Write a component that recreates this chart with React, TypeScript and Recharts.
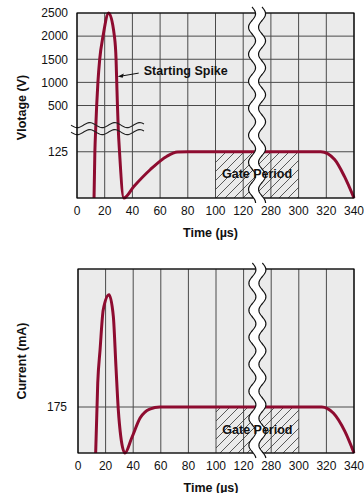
import React from "react";
import {
  LineChart,
  Line,
  XAxis,
  YAxis,
  CartesianGrid,
  ReferenceArea,
  ReferenceLine,
  ReferenceDot,
} from "recharts";

const MAROON = "#8e0c30";
const GRID = "#4a4a4a";
const BG = "#ebebeb";
const FONT = "'Liberation Sans', Arial, Helvetica, sans-serif";

// x axis is broken between 120 and 280 µs
const timeTicks = ["0", "20", "40", "60", "80", "100", "120", "280", "300", "320", "340"];

// top panel: voltage (V), axis broken between 125 and 500
const voltTicks = [125, 500, 1000, 1500, 2000, 2500];
const voltTime = [12.3, 12.9, 13.5, 14.2, 15.1, 16.4, 18.8, 22.9, 27, 28.2, 28.7, 29.2, 29.8, 30.7, 33.8, 41, 53, 65, 72.5, 80, 120, 280, 316, 326, 333, 340];
const voltVals = [0, 125, 310, 500, 1000, 1500, 2000, 2500, 2000, 1500, 1000, 500, 310, 125, 0, 31, 77, 113, 124, 125, 125, 125, 125, 104, 59, 0];

// bottom panel: current (mA)
const currTicks = [175];
const currTime = [12.8, 14.3, 16, 18.3, 22.5, 25.6, 27.5, 29.2, 31, 34, 38.9, 45, 52, 59.4, 120, 280, 316.6, 325, 333.4, 340];
const currVals = [0, 266, 393, 545, 602, 520, 329, 165, 63, 0, 57, 133, 167, 175, 175, 175, 175, 152, 82, 0];

// piecewise scales for the broken axes
const tIdx = (t: number) => (t <= 120 ? t / 20 : 7 + (t - 280) / 20);
const vIdx = (v: number) =>
  v <= 125 ? v / 62.5 : v <= 500 ? 2 + (v - 125) / 187.5 : 4 + (v - 500) / 500;

const voltData = voltTime.map((t, i) => ({ x: tIdx(t), y: vIdx(voltVals[i]) }));
const currData = currTime.map((t, i) => ({ x: tIdx(t), y: currVals[i] }));

const xTickIdx = timeTicks.map((_, i) => i);

function wavePts(from: number, to: number, base: number, amp: number, len: number, vertical: boolean) {
  const pts: string[] = [];
  for (let s = from; s <= to + 0.01; s += 1) {
    const off = base + amp * Math.sin(((s - from) / len) * Math.PI * 2);
    pts.push(vertical ? `${off.toFixed(2)},${s}` : `${s},${off.toFixed(2)}`);
  }
  return pts;
}

function VBreak(p: any) {
  const cx = (p.x1 + p.x2) / 2;
  const top = Math.min(p.y1, p.y2) - 6;
  const bot = Math.max(p.y1, p.y2) + 5;
  const left = wavePts(top, bot, cx - 5, 3.5, 27, true);
  const right = wavePts(top, bot, cx + 5, 3.5, 27, true);
  const poly = [...left, ...right.slice().reverse()].join(" ");
  return (
    <g>
      <polygon points={poly} fill="#fff" stroke="none" />
      <polyline points={left.join(" ")} fill="none" stroke="#111" strokeWidth={1.2} />
      <polyline points={right.join(" ")} fill="none" stroke="#111" strokeWidth={1.2} />
    </g>
  );
}

function HBreak(p: any) {
  const x0 = Math.min(p.x1, p.x2) - 6;
  const y = p.y1;
  const a = wavePts(x0, x0 + 73, y - 3.5, 2.5, 25, false);
  const b = wavePts(x0, x0 + 73, y + 3.5, 2.5, 25, false);
  return (
    <g>
      <polyline points={a.join(" ")} fill="none" stroke="#222" strokeWidth={1.1} />
      <polyline points={b.join(" ")} fill="none" stroke="#222" strokeWidth={1.1} />
    </g>
  );
}

function GateText(p: any) {
  return (
    <text x={p.cx} y={p.cy} dy="0.35em" textAnchor="middle" fontFamily={FONT} fontWeight="bold" fontSize={12.5} fill="#111">
      Gate Period
    </text>
  );
}

function SpikeNote(p: any) {
  const { cx, cy } = p;
  return (
    <g>
      <line x1={cx + 21} y1={cy - 3.5} x2={cx + 4} y2={cy - 0.6} stroke="#111" strokeWidth={1} />
      <polygon points={`${cx},${cy} ${cx + 6},${cy - 3.2} ${cx + 5},${cy + 1.2}`} fill="#111" />
      <text x={cx + 26} y={cy - 1.5} fontFamily={FONT} fontWeight="bold" fontSize={12.5} fill="#111">
        Starting Spike
      </text>
    </g>
  );
}

const timeLabel = (props: any) => {
  const vb = props.viewBox;
  return (
    <text x={vb.x + vb.width / 2 - 5} y={vb.y + 39} textAnchor="middle" fontFamily={FONT} fontWeight="bold" fontSize={12.5} fill="#111">
      Time (µs)
    </text>
  );
};

const yLabel = (text: string, shift: number) => (props: any) => {
  const vb = props.viewBox;
  const cy = vb.y + vb.height / 2 + shift;
  return (
    <text x={22} y={cy} dy="0.35em" textAnchor="middle" transform={`rotate(-90, 22, ${cy})`} fontFamily={FONT} fontWeight="bold" fontSize={12.5} fill="#111">
      {text}
    </text>
  );
};

const tickStyle = { fontFamily: FONT, fontSize: 12, fill: "#111" };

function Hatch({ id }: { id: string }) {
  return (
    <defs>
      <pattern id={id} patternUnits="userSpaceOnUse" width={9} height={9}>
        <line x1={-1} y1={10} x2={10} y2={-1} stroke="#333" strokeWidth={0.8} />
      </pattern>
    </defs>
  );
}

function VoltageChart() {
  const voltFmt = (v: number) => {
    const i = [2, 4, 5, 6, 7, 8].indexOf(v);
    return i >= 0 ? String(voltTicks[i]) : "";
  };
  return (
    <LineChart width={364} height={250} data={voltData} margin={{ top: 13, right: 10, bottom: 0, left: 0 }}>
      <Hatch id="hatchTop" />
      <CartesianGrid stroke={GRID} fill={BG} fillOpacity={1} />
      <XAxis
        type="number"
        dataKey="x"
        domain={[0, 10]}
        ticks={xTickIdx}
        interval={0}
        tickFormatter={(v: number) => timeTicks[v] ?? ""}
        tick={tickStyle}
        tickSize={0}
        tickMargin={8}
        axisLine={false}
        height={52}
        label={timeLabel}
      />
      <YAxis
        type="number"
        domain={[0, 8]}
        ticks={[2, 4, 5, 6, 7, 8]}
        interval={0}
        tickFormatter={voltFmt}
        tick={tickStyle}
        tickSize={0}
        tickMargin={9}
        axisLine={false}
        width={77}
        label={yLabel("Vlotage (V)", 2)}
      />
      <ReferenceArea x1={5} x2={8} y1={0} y2={2} fill="url(#hatchTop)" fillOpacity={1} stroke="none" zIndex={50} />
      <Line type="monotone" dataKey="y" stroke={MAROON} strokeWidth={3} dot={false} isAnimationActive={false} />
      <ReferenceLine y={3} shape={HBreak} zIndex={450} />
      <ReferenceLine x={6.5} shape={VBreak} zIndex={460} />
      <ReferenceDot x={1.47} y={5.25} r={0} shape={SpikeNote} zIndex={470} />
      <ReferenceDot x={6.5} y={1.05} r={0} shape={GateText} zIndex={470} />
      <ReferenceArea x1={0} x2={10} y1={0} y2={8} fill="none" stroke="#000" strokeWidth={1.2} zIndex={455} />
    </LineChart>
  );
}

function CurrentChart() {
  return (
    <LineChart width={364} height={243} data={currData} margin={{ top: 19, right: 10, bottom: 0, left: 0 }}>
      <Hatch id="hatchBottom" />
      <CartesianGrid stroke={GRID} fill={BG} fillOpacity={1} />
      <XAxis
        type="number"
        dataKey="x"
        domain={[0, 10]}
        ticks={xTickIdx}
        interval={0}
        tickFormatter={(v: number) => timeTicks[v] ?? ""}
        tick={tickStyle}
        tickSize={0}
        tickMargin={8}
        axisLine={false}
        height={40}
        label={(p: any) => timeLabel({ viewBox: { ...p.viewBox, y: p.viewBox.y - 0.5 } })}
      />
      <YAxis
        type="number"
        domain={[0, 700]}
        ticks={currTicks}
        interval={0}
        tick={tickStyle}
        tickSize={0}
        tickMargin={11}
        axisLine={false}
        width={78}
        label={yLabel("Current (mA)", 0)}
      />
      <ReferenceArea x1={5} x2={8} y1={0} y2={175} fill="url(#hatchBottom)" fillOpacity={1} stroke="none" zIndex={50} />
      <Line type="monotone" dataKey="y" stroke={MAROON} strokeWidth={3} dot={false} isAnimationActive={false} />
      <ReferenceLine x={6.5} shape={VBreak} zIndex={460} />
      <ReferenceDot x={6.5} y={89} r={0} shape={GateText} zIndex={470} />
      <ReferenceArea x1={0} x2={10} y1={0} y2={700} fill="none" stroke="#000" strokeWidth={1.2} zIndex={455} />
    </LineChart>
  );
}

export default function App() {
  return (
    <div style={{ position: "absolute", left: 0, top: 0, width: 364, height: 493, background: "#fff" }}>
      <VoltageChart />
      <CurrentChart />
    </div>
  );
}
